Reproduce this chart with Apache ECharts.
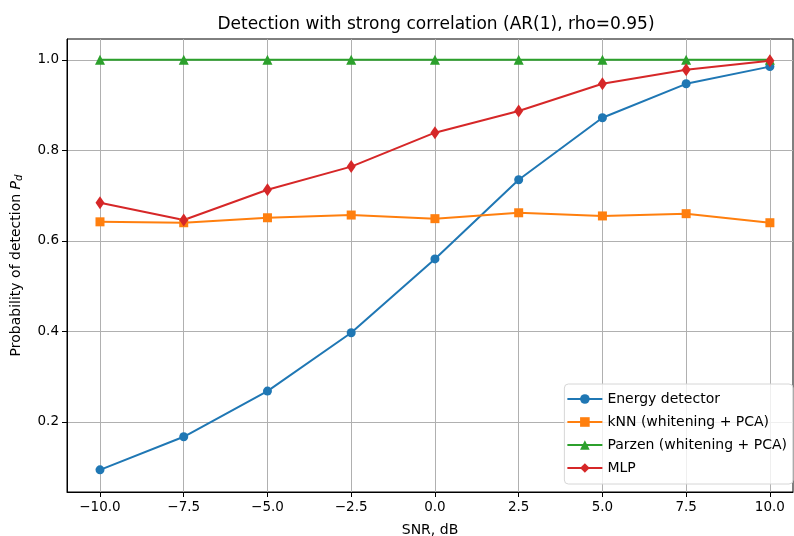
<!DOCTYPE html>
<html lang="en">
<head>
  <meta charset="UTF-8">
  <title>Detection with strong correlation</title>
  <script src="https://cdn.jsdelivr.net/npm/echarts@6/dist/echarts.min.js"></script>
  <style>
    html, body { margin: 0; padding: 0; background: #fff; }
    #chart { width: 794px; height: 536px; }
  </style>
</head>
<body>
  <div id="chart"></div>
  <script>
    var snr = [-10, -7.5, -5, -2.5, 0, 2.5, 5, 7.5, 10];
    var energy = [0.094, 0.167, 0.268, 0.397, 0.560, 0.735, 0.872, 0.947, 0.985];
    var knn = [0.642, 0.640, 0.651, 0.657, 0.649, 0.662, 0.655, 0.660, 0.640];
    var parzen = [1.0, 1.0, 1.0, 1.0, 1.0, 1.0, 1.0, 1.0, 1.0];
    var mlp = [0.684, 0.646, 0.713, 0.764, 0.839, 0.887, 0.947, 0.978, 0.998];
    var xTicks = [-10, -7.5, -5, -2.5, 0, 2.5, 5, 7.5, 10];
    var yTicks = [0.2, 0.4, 0.6, 0.8, 1.0];

    var font = 'DejaVu Sans';
    var chart = echarts.init(document.getElementById('chart'));

    function pairs(ys) {
      return snr.map(function (x, i) { return [x, ys[i]]; });
    }
    function mkSeries(name, ys, color, symbol, size) {
      return {
        name: name,
        type: 'line',
        data: pairs(ys),
        symbol: symbol,
        symbolSize: size,
        showSymbol: true,
        lineStyle: { color: color, width: 2 },
        itemStyle: { color: color, borderWidth: 0 },
        emphasis: { disabled: true },
        animation: false
      };
    }
    function minus(v) {
      return v.toFixed(1).replace('-', '\u2212');
    }

    var option = {
      backgroundColor: '#fff',
      textStyle: { fontFamily: font },
      title: {
        text: 'Detection with strong correlation (AR(1), rho=0.95)',
        left: 431, top: 11, textAlign: 'center',
        textStyle: { fontFamily: font, fontSize: 17, fontWeight: 'normal', color: '#000' }
      },
      grid: {
        left: 67, right: 1, top: 39, bottom: 44,
        outerBoundsMode: 'none',
        show: true, borderColor: '#000', borderWidth: 1
      },
      xAxis: {
        type: 'value',
        min: -10.985, max: 10.69,
        name: 'SNR, dB', nameLocation: 'middle', nameGap: 31,
        nameTextStyle: { fontFamily: font, fontSize: 14, color: '#000' },
        axisLine: { show: true, onZero: false, lineStyle: { color: '#000', width: 1 } },
        axisTick: { show: true, length: 5, customValues: xTicks, lineStyle: { color: '#000' } },
        axisLabel: { customValues: xTicks, margin: 8, fontFamily: font, fontSize: 13.5, color: '#000', formatter: minus },
        splitLine: { show: true, lineStyle: { color: '#b0b0b0', width: 1 } }
      },
      yAxis: {
        type: 'value',
        min: 0.045, max: 1.046,
        name: '{t|Probability of detection }{p|P}{d|d}',
        nameLocation: 'middle', nameGap: 43, nameRotate: 90,
        nameTextStyle: {
          fontFamily: font, fontSize: 14, color: '#000',
          rich: {
            t: { fontFamily: font, fontSize: 14, color: '#000' },
            p: { fontFamily: font, fontSize: 14, fontStyle: 'italic', color: '#000' },
            d: { fontFamily: font, fontSize: 10, fontStyle: 'italic', color: '#000', verticalAlign: 'bottom', padding: [6, 0, 0, 0] }
          }
        },
        axisLine: { show: true, onZero: false, lineStyle: { color: '#000', width: 1 } },
        axisTick: { show: true, length: 5, customValues: yTicks, lineStyle: { color: '#000' } },
        axisLabel: { customValues: yTicks, margin: 8, fontFamily: font, fontSize: 13.5, color: '#000', formatter: function (v) { return v.toFixed(1); } },
        splitLine: { show: true, lineStyle: { color: '#b0b0b0', width: 1 } }
      },
      legend: {
        orient: 'vertical',
        right: 1, bottom: 52,
        padding: [8, 6, 9, 2],
        itemGap: 9,
        itemWidth: 35, itemHeight: 12,
        backgroundColor: 'rgba(255,255,255,0.8)',
        borderColor: '#d6d6d6', borderWidth: 1, borderRadius: 4,
        textStyle: { fontFamily: font, fontSize: 14, color: '#000' },
        data: ['Energy detector', 'kNN (whitening + PCA)', 'Parzen (whitening + PCA)', 'MLP']
      },
      series: [
        mkSeries('Energy detector', energy, '#1f77b4', 'circle', 9),
        mkSeries('kNN (whitening + PCA)', knn, '#ff7f0e', 'rect', 9),
        mkSeries('Parzen (whitening + PCA)', parzen, '#2ca02c', 'triangle', 10),
        mkSeries('MLP', mlp, '#d62728', 'diamond', [9, 13])
      ]
    };
    chart.setOption(option);
  </script>
</body>
</html>
